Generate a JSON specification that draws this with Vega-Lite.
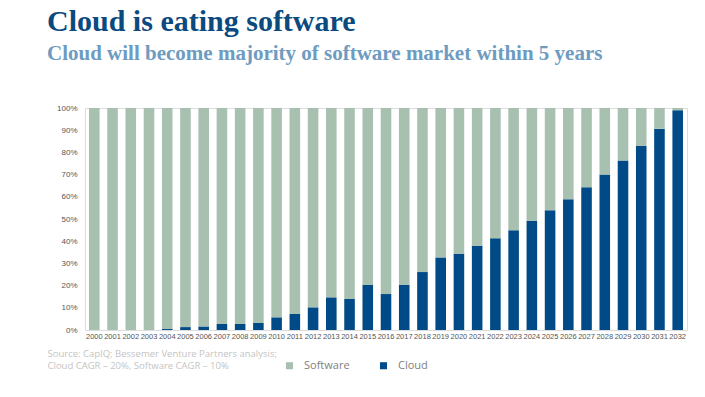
{
  "$schema": "https://vega.github.io/schema/vega-lite/v6.json",
  "width": 602,
  "height": 222,
  "autosize": "none",
  "padding": {"left": 85, "top": 108, "right": 18, "bottom": 67},
  "background": "white",
  "title": {
    "text": "Cloud is eating software",
    "subtitle": "Cloud will become majority of software market within 5 years",
    "anchor": "start",
    "frame": "group",
    "dx": -38,
    "offset": 40,
    "font": "Liberation Serif",
    "fontSize": 30,
    "fontWeight": "bold",
    "color": "#0b4a7f",
    "subtitleFont": "Liberation Serif",
    "subtitleFontSize": 21,
    "subtitleFontWeight": "bold",
    "subtitleColor": "#6e9bc0",
    "subtitlePadding": 6
  },
  "data": {
    "values": [
      {"year": "2000", "series": "Cloud", "value": 0.0},
      {"year": "2001", "series": "Cloud", "value": 0.0},
      {"year": "2002", "series": "Cloud", "value": 0.0},
      {"year": "2003", "series": "Cloud", "value": 0.0},
      {"year": "2004", "series": "Cloud", "value": 0.006},
      {"year": "2005", "series": "Cloud", "value": 0.013},
      {"year": "2006", "series": "Cloud", "value": 0.016},
      {"year": "2007", "series": "Cloud", "value": 0.027},
      {"year": "2008", "series": "Cloud", "value": 0.027},
      {"year": "2009", "series": "Cloud", "value": 0.032},
      {"year": "2010", "series": "Cloud", "value": 0.057},
      {"year": "2011", "series": "Cloud", "value": 0.072},
      {"year": "2012", "series": "Cloud", "value": 0.102},
      {"year": "2013", "series": "Cloud", "value": 0.147},
      {"year": "2014", "series": "Cloud", "value": 0.140},
      {"year": "2015", "series": "Cloud", "value": 0.203},
      {"year": "2016", "series": "Cloud", "value": 0.162},
      {"year": "2017", "series": "Cloud", "value": 0.203},
      {"year": "2018", "series": "Cloud", "value": 0.261},
      {"year": "2019", "series": "Cloud", "value": 0.327},
      {"year": "2020", "series": "Cloud", "value": 0.344},
      {"year": "2021", "series": "Cloud", "value": 0.380},
      {"year": "2022", "series": "Cloud", "value": 0.413},
      {"year": "2023", "series": "Cloud", "value": 0.449},
      {"year": "2024", "series": "Cloud", "value": 0.491},
      {"year": "2025", "series": "Cloud", "value": 0.539},
      {"year": "2026", "series": "Cloud", "value": 0.589},
      {"year": "2027", "series": "Cloud", "value": 0.643},
      {"year": "2028", "series": "Cloud", "value": 0.700},
      {"year": "2029", "series": "Cloud", "value": 0.763},
      {"year": "2030", "series": "Cloud", "value": 0.829},
      {"year": "2031", "series": "Cloud", "value": 0.907},
      {"year": "2032", "series": "Cloud", "value": 0.990},
      {"year": "2000", "series": "Software", "value": 1.0},
      {"year": "2001", "series": "Software", "value": 1.0},
      {"year": "2002", "series": "Software", "value": 1.0},
      {"year": "2003", "series": "Software", "value": 1.0},
      {"year": "2004", "series": "Software", "value": 0.994},
      {"year": "2005", "series": "Software", "value": 0.987},
      {"year": "2006", "series": "Software", "value": 0.984},
      {"year": "2007", "series": "Software", "value": 0.973},
      {"year": "2008", "series": "Software", "value": 0.973},
      {"year": "2009", "series": "Software", "value": 0.968},
      {"year": "2010", "series": "Software", "value": 0.943},
      {"year": "2011", "series": "Software", "value": 0.928},
      {"year": "2012", "series": "Software", "value": 0.898},
      {"year": "2013", "series": "Software", "value": 0.853},
      {"year": "2014", "series": "Software", "value": 0.860},
      {"year": "2015", "series": "Software", "value": 0.797},
      {"year": "2016", "series": "Software", "value": 0.838},
      {"year": "2017", "series": "Software", "value": 0.797},
      {"year": "2018", "series": "Software", "value": 0.739},
      {"year": "2019", "series": "Software", "value": 0.673},
      {"year": "2020", "series": "Software", "value": 0.656},
      {"year": "2021", "series": "Software", "value": 0.620},
      {"year": "2022", "series": "Software", "value": 0.587},
      {"year": "2023", "series": "Software", "value": 0.551},
      {"year": "2024", "series": "Software", "value": 0.509},
      {"year": "2025", "series": "Software", "value": 0.461},
      {"year": "2026", "series": "Software", "value": 0.411},
      {"year": "2027", "series": "Software", "value": 0.357},
      {"year": "2028", "series": "Software", "value": 0.300},
      {"year": "2029", "series": "Software", "value": 0.237},
      {"year": "2030", "series": "Software", "value": 0.171},
      {"year": "2031", "series": "Software", "value": 0.093},
      {"year": "2032", "series": "Software", "value": 0.010}
    ]
  },
  "mark": {"type": "bar"},
  "encoding": {
    "x": {
      "field": "year",
      "type": "ordinal",
      "scale": {"paddingInner": 0.42, "paddingOuter": 0.22},
      "axis": {
        "labelAngle": 0,
        "labelFont": "Liberation Sans",
        "labelFontSize": 7.5,
        "labelColor": "#555555",
        "labelPadding": 2,
        "domain": false,
        "ticks": false,
        "title": ["Source: CapIQ; Bessemer Venture Partners analysis;", "Cloud CAGR – 20%, Software CAGR – 10%"],
        "titleAnchor": "start",
        "titleAlign": "left",
        "titleX": -38,
        "titleY": 18,
        "titleBaseline": "top",
        "titleFont": "Open Sans",
        "titleFontSize": 9.5,
        "titleFontWeight": "normal",
        "titleColor": "#c4c4c4",
        "titleLineHeight": 12
      }
    },
    "y": {
      "field": "value",
      "type": "quantitative",
      "stack": "zero",
      "scale": {"domain": [0, 1]},
      "axis": {
        "values": [0, 0.1, 0.2, 0.3, 0.4, 0.5, 0.6, 0.7, 0.8, 0.9, 1.0],
        "format": ".0%",
        "grid": false,
        "domain": false,
        "ticks": false,
        "labelFont": "Liberation Sans",
        "labelFontSize": 8,
        "labelColor": "#555555",
        "labelPadding": 8,
        "title": null
      }
    },
    "color": {
      "field": "series",
      "type": "nominal",
      "scale": {"domain": ["Software", "Cloud"], "range": ["#a8c0b0", "#004b87"]},
      "legend": {
        "title": null,
        "orient": "none",
        "direction": "horizontal",
        "legendX": 199,
        "legendY": 252,
        "symbolType": "square",
        "symbolSize": 50,
        "symbolStrokeWidth": 0,
        "labelFont": "Open Sans",
        "labelFontSize": 11,
        "labelColor": "#808080",
        "columnPadding": 28,
        "labelOffset": 9
      }
    },
    "order": {"field": "series", "sort": "ascending"}
  }
}
